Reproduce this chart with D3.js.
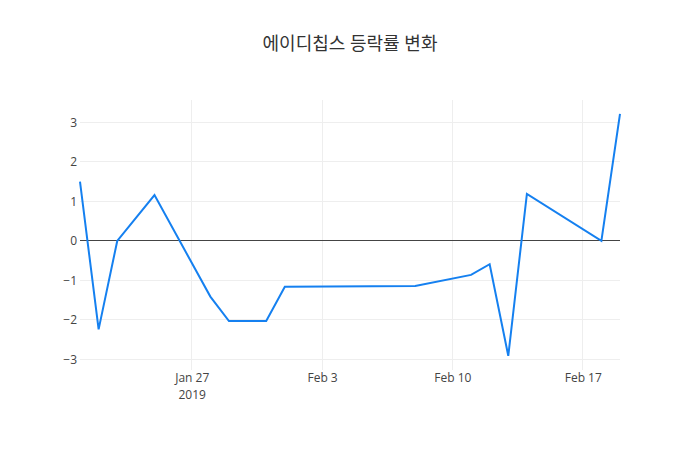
<!DOCTYPE html>
<html>
<head>
<meta charset="utf-8">
<script src="https://cdn.jsdelivr.net/npm/d3@7"></script>
<style>
  body { margin: 0; background: #fff; }
  text { font-family: "Open Sans", "Noto Sans CJK KR", sans-serif; }
</style>
</head>
<body>
<div class="root"></div>
<script>
// 에이디칩스 daily change (%)
var dates = ['2019-01-21', '2019-01-22', '2019-01-23', '2019-01-25', '2019-01-28', '2019-01-29',
             '2019-01-31', '2019-02-01', '2019-02-08', '2019-02-11', '2019-02-12', '2019-02-13',
             '2019-02-14', '2019-02-18', '2019-02-19'];
var changes = [1.50, -2.24, 0, 1.16, -1.41, -2.03, -2.03, -1.16, -1.14, -0.86, -0.59, -2.91, 1.19, 0, 3.22];
var yTicks = [-3, -2, -1, 0, 1, 2, 3];
var xTicks = ['2019-01-27', '2019-02-03', '2019-02-10', '2019-02-17'];
var title = '에이디칩스 등락률 변화';

var canvasWidth = 700,
    canvasHeight = 450;
var margin = {top: 100, right: 80, bottom: 80, left: 80};
var graphWidth = canvasWidth - margin.left - margin.right,
    graphHeight = canvasHeight - margin.top - margin.bottom;

var parse = d3.timeParse('%Y-%m-%d');
var data = dates.map(function (d, i) { return {date: parse(d), value: changes[i]}; });

var svg = d3.select('.root')
            .append('svg')
            .attr('width', canvasWidth)
            .attr('height', canvasHeight);

svg.append('text')
   .attr('x', canvasWidth / 2)
   .attr('y', 50)
   .attr('text-anchor', 'middle')
   .style('font-size', '18px')
   .style('fill', '#333')
   .text(title);

var graph = svg.append('g')
               .attr('transform', 'translate(' + margin.left + ',' + margin.top + ')');

var xScale = d3.scaleTime()
               .domain(d3.extent(data, d => d.date))
               .range([0, graphWidth]);

var yScale = d3.scaleLinear()
               .domain([-3.27, 3.57])
               .range([graphHeight, 0]);

// grid
graph.selectAll('.vgrid')
     .data(xTicks.map(parse))
     .enter().append('line')
     .attr('x1', d => xScale(d)).attr('x2', d => xScale(d))
     .attr('y1', 0).attr('y2', graphHeight)
     .style('stroke', '#eee').style('stroke-width', 1)
     .style('shape-rendering', 'crispEdges');

graph.selectAll('.hgrid')
     .data(yTicks.filter(d => d !== 0))
     .enter().append('line')
     .attr('x1', 0).attr('x2', graphWidth)
     .attr('y1', d => yScale(d)).attr('y2', d => yScale(d))
     .style('stroke', '#eee').style('stroke-width', 1)
     .style('shape-rendering', 'crispEdges');

// zero line
graph.append('line')
     .attr('x1', 0).attr('x2', graphWidth)
     .attr('y1', yScale(0)).attr('y2', yScale(0))
     .style('stroke', '#444').style('stroke-width', 1)
     .style('shape-rendering', 'crispEdges');

// y axis
var yAxis = graph.append('g')
                 .call(d3.axisLeft(yScale).tickValues(yTicks).tickSize(0).tickPadding(3)
                         .tickFormat(d => d < 0 ? '\u2212' + Math.abs(d) : d));
yAxis.select('.domain').remove();
yAxis.selectAll('text').style('font-size', '12px').style('fill', '#444')
     .style('font-family', '"Open Sans", sans-serif');

// x axis
var xAxis = graph.append('g')
                 .attr('transform', 'translate(0,' + graphHeight + ')')
                 .call(d3.axisBottom(xScale).tickValues(xTicks.map(parse)).tickSize(0).tickPadding(3)
                         .tickFormat(d3.timeFormat('%b %-d')));
xAxis.select('.domain').remove();
xAxis.selectAll('text').style('font-size', '12px').style('fill', '#444')
     .style('font-family', '"Open Sans", sans-serif');
xAxis.selectAll('.tick').filter((d, i) => i === 0)
     .append('text')
     .attr('y', 20).attr('dy', '0.71em')
     .attr('text-anchor', 'middle')
     .style('font-size', '12px').style('fill', '#444')
     .style('font-family', '"Open Sans", sans-serif')
     .text(d => d.getFullYear());

var line = d3.line()
             .x(d => xScale(d.date))
             .y(d => yScale(d.value));

graph.append('path')
     .datum(data)
     .attr('d', line)
     .style('fill', 'none')
     .style('stroke', '#1580f0')
     .style('stroke-width', 2)
     .style('stroke-linejoin', 'miter');
</script>
</body>
</html>
